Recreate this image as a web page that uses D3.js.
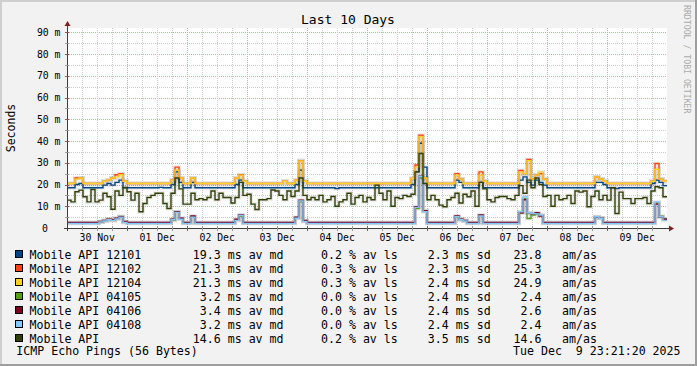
<!DOCTYPE html>
<html><head><meta charset="utf-8">
<script src="https://cdn.jsdelivr.net/npm/d3@7"></script>
<style>
body{margin:0;background:#f2f2f2}
svg{display:block}
text{font-family:"DejaVu Sans Mono",monospace;fill:#000}
</style>
</head><body>
<svg id="chart" width="697" height="366"></svg>
<script>
// ---------- data ----------
const startTime = Date.UTC(2025, 10, 29, 23, 55);   // left edge of the plot
const endTime = Date.UTC(2025, 11, 9, 23, 55);      // right edge of the plot
const stepMinutes = 96;                             // one sample per 96 minutes

const seriesNames = ["Mobile API 12101","Mobile API 12102","Mobile API 12104","Mobile API 04105","Mobile API 04106","Mobile API 04108","Mobile API"];
const seriesColors = ["#004586","#ff420e","#ffd320","#579d1c","#7e0021","#83caff","#314004"];

const api12101 = [
 18.5,18.5,20,20.5,18.5,18.5,18.5,18.5,18.5,19.7,20.5,19.7,21,22,18.5,18.5,18.5,18.5,18.5,18.5,18.5,18.5,18.5,18.7,18.5,
 18.5,20,25.8,21,18.5,18.5,21,18.5,18.5,18.5,18.5,18.5,18.5,18.5,18.5,18.5,18.5,20,22,18.5,18.5,18.5,18.5,18.5,18.5,
 18.5,18.5,18.5,18.5,18.5,18.5,18.5,20,26.6,18.5,18.5,18.5,18.5,18.5,18.5,18.5,18.5,18.2,18.5,18.5,18.5,18.5,18.5,18.5,18.5,
 18.5,18.5,18.5,18.5,18.5,18.5,18.5,18.5,18.5,18.5,18.5,20,25.8,39,28,18.5,18.5,18.5,18.5,18.5,18.5,18.5,22,21,18.5,
 18.5,18.5,18.5,21,18.5,18.5,18.5,18.5,18.5,18.5,18.5,18.5,18.5,22,23.5,21,19.7,22,21,19.7,18.5,18.5,18.5,18.5,18.5,
 18.5,18.5,18.5,18.5,18.5,18.5,18.5,21,21,20,18.5,18.5,18.2,18.5,18.5,18.5,18.5,18.5,18.5,18.5,18.5,20.5,22,21,19.5];
const api12102 = [
 20.5,20.5,23,23,20.5,20.5,20.5,20.5,20.5,21.5,22,23,24.5,25,21.5,20.5,20.5,20.5,20.5,20.5,20.5,20.5,20.5,20.5,20.5,
 20.5,22,28,23,20.5,20.5,23,20.5,20.5,20.5,20.5,20.5,20.5,20.5,20.5,20.5,20.5,23,24.5,21.5,20.5,20.5,20.5,20.5,20.5,
 20.5,20.5,20.5,20.5,21.5,20.5,20.5,22,31,21.5,20.5,20.5,20.5,20.5,20.5,20.5,20.5,20.5,20.5,20.5,20.5,20.5,20.5,20.5,20.5,
 20.5,20.5,20.5,20.5,20.5,20.5,20.5,20.5,20.5,20.5,20.5,22.8,29,42.7,23,20.5,20.5,20.5,20.5,20.5,20.5,20.5,25,22.5,20.5,
 20.5,20.5,20.5,25.8,21.5,20.5,20.5,20.5,20.5,20.5,20.5,20.5,20.5,26.5,25,31.5,22.5,24.3,25,22.5,20.5,20.5,20.5,20.5,20.5,
 20.5,20.5,20.5,20.5,20.5,20.5,20.5,23.5,22.5,21.5,20.5,20.5,20.5,20.5,20.5,20.5,20.5,20.5,20.5,20.5,20.5,21.5,29.7,22.5,21.5];
const api12104 = [
 20.5,20.5,22.5,23,20.5,20.5,20.5,20.5,20.5,21.5,22,23,23.5,24.5,21.5,20.5,20.5,20.5,20.5,20.5,20.5,20.5,20.5,20.5,20.5,
 20.5,22,26.6,23,20.5,20.5,23,20.5,20.5,20.5,20.5,20.5,20.5,20.5,20.5,20.5,20.5,23,24.3,21.5,20.5,20.5,20.5,20.5,20.5,
 20.5,20.5,20.5,20.5,21.5,20.5,20.5,22,30.9,21.5,20.5,20.5,20.5,20.5,20.5,20.5,20.5,20.5,20.5,20.5,20.5,20.5,20.5,20.5,20.5,
 20.5,20.5,20.5,20.5,20.5,20.5,20.5,20.5,20.5,20.5,20.5,22.8,28,42,23,20.5,20.5,20.5,20.5,20.5,20.5,20.5,24.3,22.5,20.5,
 20.5,20.5,20.5,24.3,21.5,20.5,20.5,20.5,20.5,20.5,20.5,20.5,20.5,25.8,25,31,22.5,24.3,25.8,22.5,20.5,20.5,20.5,20.5,20.5,
 20.5,20.5,20.5,20.5,20.5,20.5,20.5,23.5,22.5,21.5,20.5,20.5,20.5,20.5,20.5,20.5,20.5,20.5,20.5,20.5,20.5,21.5,27,22.5,21.5];
const api04105 = [
 2.3,2.3,2.3,2.3,2.3,2.3,2.3,2.3,2.8,3.3,3.9,3.6,4.3,5.3,2.7,2.3,2.3,2.3,2.3,2.3,2.3,2.3,2.3,2.3,2.3,
 2.3,3.5,7.3,4.2,2.3,2.3,5.2,2.3,2.3,2.3,2.3,2.3,2.3,2.3,2.3,2.3,2.3,3.6,5.5,2.3,2.3,2.3,2.3,2.3,2.3,
 2.3,2.3,2.3,2.3,2.3,2.3,2.3,4.6,12,3.2,2.3,2.3,2.3,2.3,2.3,2.3,2.3,2.3,2.3,2.3,2.3,2.3,2.3,2.3,2.3,
 2.3,2.3,2.3,2.3,2.3,2.3,2.3,2.3,2.3,2.3,2.3,2.3,9,23,7.8,2.3,2.3,2.3,2.3,2.3,2.3,2.3,5,3.9,3.3,
 2.3,2.3,2.3,5.6,2.3,2.3,2.3,2.3,2.3,2.3,2.3,2.3,2.3,7,13.5,4.4,6,6.3,5.8,2.3,2.3,2.3,2.3,2.3,2.3,
 2.3,2.3,2.3,2.3,2.3,2.3,2.3,5,4.6,2.3,2.3,2.3,2.3,2.3,2.3,2.3,2.3,2.3,2.3,2.3,2.3,2.3,11.5,5.4,4.2];
const api04106 = [
 2.6,2.6,2.6,2.6,2.6,2.6,2.6,2.6,3,3.5,4,3.8,4.5,5.2,3,2.6,2.6,2.6,2.6,2.6,2.6,2.6,2.6,2.6,2.6,
 2.6,4,7.5,4.5,2.6,2.6,5.5,2.6,2.6,2.6,2.6,2.6,2.6,2.6,2.6,2.6,2.6,4,6,2.6,2.6,2.6,2.6,2.6,2.6,
 2.6,2.6,2.6,2.6,2.6,2.6,2.6,5,12.8,3.5,2.6,2.6,2.6,2.6,2.6,2.6,2.6,2.6,2.6,2.6,2.6,2.6,2.6,2.6,2.6,
 2.6,2.6,2.6,2.6,2.6,2.6,2.6,2.6,2.6,2.6,2.6,2.6,9.8,24,8,2.6,2.6,2.6,2.6,2.6,2.6,2.6,5.5,4,3.5,
 2.6,2.6,2.6,6,2.6,2.6,2.6,2.6,2.6,2.6,2.6,2.6,2.6,7,13,7,6.5,7,5.5,2.6,2.6,2.6,2.6,2.6,2.6,
 2.6,2.6,2.6,2.6,2.6,2.6,2.6,5,4.5,2.6,2.6,2.6,2.6,2.6,2.6,2.6,2.6,2.6,2.6,2.6,2.6,2.6,11,5,4];
const api04108 = [
 2.1,2.1,2.1,2.1,2.1,2.1,2.1,2.1,2.8,3.2,3.8,3.5,4.2,5,2.5,2.1,2.1,2.1,2.1,2.1,2.1,2.1,2.1,2.1,2.1,
 2.1,3.8,7.2,4,2.1,2.1,5,2.1,2.1,2.1,2.1,2.1,2.1,2.1,2.1,2.1,2.1,3.5,5.8,2.1,2.1,2.1,2.1,2.1,2.1,
 2.1,2.1,2.1,2.1,2.1,2.1,2.1,4.5,12.5,3,2.1,2.1,2.1,2.1,2.1,2.1,2.1,2.1,2.1,2.1,2.1,2.1,2.1,2.1,2.1,
 2.1,2.1,2.1,2.1,2.1,2.1,2.1,2.1,2.1,2.1,2.1,2.1,9.5,23.8,7.5,2.1,2.1,2.1,2.1,2.1,2.1,2.1,5.2,3.8,3.2,
 2.1,2.1,2.1,5.5,2.1,2.1,2.1,2.1,2.1,2.1,2.1,2.1,2.1,7.5,14.4,7,6.7,6.5,6,2.1,2.1,2.1,2.1,2.1,2.1,
 2.1,2.1,2.1,2.1,2.1,2.1,2.1,5.2,4.5,2.1,2.1,2.1,2.1,2.1,2.1,2.1,2.1,2.1,2.1,2.1,2.1,2.1,12,5.2,3.5];
const apiMobile = [
 12.8,12,16.7,17.4,14.4,12,17.7,12,12.8,16,14.4,8.6,17,15,18.6,16.7,12.8,16,7.5,11.3,14,15,16,16,11.3,
 9,16,23,18,11,11,16,13,13.5,13,14,17,13,16,14,14,11.5,14,21,15,15.5,11,8.5,13,13,13.5,
 17.5,17,15,13,17,14.5,17,23,15,13,14,13,15,12,13,14.5,10,12,13,16,11,14,15,12,14,
 13,19.7,16,13,17,10,14,13.5,15,14.5,15.5,25.8,34.3,20.5,13,15,13,10.5,9.8,13,14,16,11.5,15.5,14.4,
 17,10,21,18,13,12,14,14.5,14.5,13.5,13,15,19.5,16,22,18.5,23,20,14.5,15,10,15,13,13.5,15,
 11.3,17,16.5,17,9.8,14.5,17,13,15,12.8,18.5,6.7,16.5,13.5,13.5,11.3,13.5,13.5,14,11.3,17,19,18.5,14.4];

const yTickValues = [0,10,20,30,40,50,60,70,80,90];
const yTickLabels = ["0","10 m","20 m","30 m","40 m","50 m","60 m","70 m","80 m","90 m"];
const xTickLabels = ["30 Nov","01 Dec","02 Dec","03 Dec","04 Dec","05 Dec","06 Dec","07 Dec","08 Dec","09 Dec"];

const legMedian = ["19.3","21.3","21.3","3.2","3.4","3.2","14.6"];
const legLoss = ["0.2","0.3","0.3","0.0","0.0","0.0","0.2"];
const legSd = ["2.3","2.3","2.4","2.4","2.4","2.4","3.5"];
const legAmAs = ["23.8","25.3","24.9","2.4","2.6","2.4","14.6"];

const titleText = "Last 10 Days";
const yAxisTitle = "Seconds";
const footerLeft = "ICMP Echo Pings (56 Bytes)";
const footerRight = "Tue Dec  9 23:21:20 2025";
const watermark = "RRDTOOL / TOBI OETIKER";

// ---------- drawing ----------
const W = 697, H = 366;
const P = {left: 67, right: 667, top: 28, bottom: 228};
const svg = d3.select("#chart");
const nb = s => s.replace(/ /g, "\u00A0");

// background + 3D border
svg.append("rect").attr("width", W).attr("height", H).attr("fill", "#f2f2f2");
svg.append("path").attr("d", `M1,${H} V1 H${W}`).attr("fill","none").attr("stroke","#cfcfcf").attr("stroke-width",2);
svg.append("path").attr("d", `M0,${H-1} H${W-1} V0`).attr("fill","none").attr("stroke","#9e9e9e").attr("stroke-width",2);

const x = d3.scaleUtc().domain([startTime, endTime]).range([P.left, P.right]);
const y = d3.scaleLinear().domain([0, 92]).range([P.bottom, P.top]);

svg.append("rect").attr("x", P.left).attr("y", P.top).attr("width", P.right - P.left).attr("height", P.bottom - P.top).attr("fill", "#fff");

const grid = svg.append("g");
const hMinor = d3.range(5, 92, 10);
const hMajor = d3.range(10, 92, 10);
grid.selectAll(".hmin").data(hMinor).join("line")
  .attr("x1", P.left).attr("x2", P.right).attr("y1", d => Math.round(y(d)) + 0.5).attr("y2", d => Math.round(y(d)) + 0.5)
  .attr("stroke", "#cccccc").attr("stroke-dasharray", "1,1");
grid.selectAll(".hmaj").data(hMajor).join("line")
  .attr("x1", P.left).attr("x2", P.right).attr("y1", d => Math.round(y(d)) + 0.5).attr("y2", d => Math.round(y(d)) + 0.5)
  .attr("stroke", "#e8a0a0").attr("stroke-dasharray", "1,1");
const vMinor = d3.utcHour.every(6).range(new Date(startTime + 60000), new Date(endTime)).filter(d => d.getUTCHours() !== 0);
const vMajor = d3.utcDay.range(new Date(startTime + 3600000), new Date(endTime));
grid.selectAll(".vmin").data(vMinor).join("line")
  .attr("x1", d => Math.round(x(d)) + 0.5).attr("x2", d => Math.round(x(d)) + 0.5).attr("y1", P.top).attr("y2", P.bottom)
  .attr("stroke", "#cccccc").attr("stroke-dasharray", "1,1");
grid.selectAll(".vmaj").data(vMajor).join("line")
  .attr("x1", d => Math.round(x(d)) + 0.5).attr("x2", d => Math.round(x(d)) + 0.5).attr("y1", P.top).attr("y2", P.bottom)
  .attr("stroke", "#e8a0a0").attr("stroke-dasharray", "1,1");

// series lines
const allSeries = [api12101, api12102, api12104, api04105, api04106, api04108, apiMobile];
const line = d3.line().x(d => x(d.t)).y(d => y(d.v)).curve(d3.curveStepAfter);
const toPts = vals => {
  const pts = vals.map((v, i) => ({t: startTime + i * stepMinutes * 60000, v}));
  pts.push({t: startTime + vals.length * stepMinutes * 60000, v: vals[vals.length - 1]});
  return pts;
};
// faint smoke halo under the lines
allSeries.forEach((vals, k) => {
  svg.append("path").datum(toPts(vals)).attr("d", line)
    .attr("fill", "none").attr("stroke", "rgba(0,0,0,0.08)").attr("stroke-width", 4);
});
allSeries.forEach((vals, k) => {
  svg.append("path").datum(toPts(vals)).attr("d", line)
    .attr("fill", "none").attr("stroke", seriesColors[k]).attr("stroke-width", 1.4);
});

// axes
const axisColor = "#3c3c3c", arrowColor = "#7f1f1f";
svg.append("line").attr("x1", P.left - 3).attr("x2", P.right + 2).attr("y1", P.bottom + 0.5).attr("y2", P.bottom + 0.5).attr("stroke", axisColor);
svg.append("line").attr("x1", P.left + 0.5).attr("x2", P.left + 0.5).attr("y1", P.bottom + 3).attr("y2", P.top - 3).attr("stroke", axisColor);
svg.append("path").attr("d", `M${P.left + 0.5},${P.top - 7} L${P.left - 2.5},${P.top - 2} L${P.left + 3.5},${P.top - 2} Z`).attr("fill", arrowColor);
svg.append("path").attr("d", `M${P.right + 7},${P.bottom + 0.5} L${P.right + 2},${P.bottom - 2.5} L${P.right + 2},${P.bottom + 3.5} Z`).attr("fill", arrowColor);

svg.selectAll(".ytk").data(d3.range(5, 92, 5)).join("line")
  .attr("x1", P.left - 2).attr("x2", P.left + 2).attr("y1", d => Math.round(y(d)) + 0.5).attr("y2", d => Math.round(y(d)) + 0.5)
  .attr("stroke", d => d % 10 === 0 ? "#a05050" : "#999");
svg.selectAll(".xtk").data(vMinor.concat(vMajor)).join("line")
  .attr("x1", d => Math.round(x(d)) + 0.5).attr("x2", d => Math.round(x(d)) + 0.5).attr("y1", P.bottom - 2).attr("y2", P.bottom + 3)
  .attr("stroke", d => d.getUTCHours() === 0 ? "#a05050" : "#999");

const yLab = svg.append("g").attr("font-size", "9.8px");
yTickValues.forEach((v, i) => {
  yLab.append("text").attr("x", v === 0 ? 48 : 60.5).attr("y", y(v) + 3.5).attr("text-anchor", "end").text(yTickLabels[i]);
});
const xLab = svg.append("g").attr("font-size", "9.8px");
xTickLabels.forEach((lab, i) => {
  const t = Date.UTC(2025, 10, 30, 12) + i * 86400000;
  xLab.append("text").attr("x", x(t)).attr("y", 241).attr("text-anchor", "middle").text(lab);
});

svg.append("text").attr("x", 348).attr("y", 23.5).attr("text-anchor", "middle").attr("font-size", "13px").text(titleText);
svg.append("text").attr("transform", "translate(15,128) rotate(-90)").attr("text-anchor", "middle").attr("font-size", "11.5px").text(yAxisTitle);
svg.append("text").attr("transform", "translate(684,5) rotate(90)").attr("font-size", "8.2px").style("fill", "#aaa").text(watermark);

// legend
const leg = svg.append("g").attr("font-size", "11.6px");
const pad = (s, n) => " ".repeat(Math.max(0, n - s.length)) + s;
seriesNames.forEach((name, k) => {
  const by = 258.5 + k * 14;
  leg.append("rect").attr("x", 15.5).attr("y", by - 8).attr("width", 7).attr("height", 7)
    .attr("fill", seriesColors[k]).attr("stroke", "#000").attr("stroke-width", 1);
  leg.append("text").attr("x", 29.5).attr("y", by).text(nb(name));
  leg.append("text").attr("x", 192.8).attr("y", by).text(nb(pad(legMedian[k], 4) + " ms av md"));
  leg.append("text").attr("x", 321).attr("y", by).text(nb(legLoss[k] + " % av ls"));
  leg.append("text").attr("x", 427.8).attr("y", by).text(nb(legSd[k] + " ms sd"));
  leg.append("text").attr("x", 513.5).attr("y", by).text(nb(pad(legAmAs[k], 4)));
  leg.append("text").attr("x", 562).attr("y", by).text("am/as");
});
leg.append("text").attr("x", 16.3).attr("y", 355).text(nb(footerLeft));
leg.append("text").attr("x", 513).attr("y", 355).text(nb(footerRight));
</script>
</body></html>
